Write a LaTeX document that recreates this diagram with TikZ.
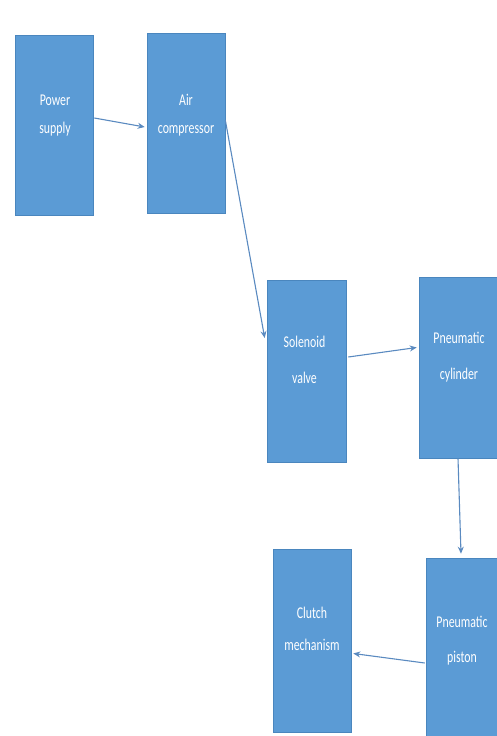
\documentclass[tikz,border=0pt]{standalone}
\usepackage{fontspec}
\setmainfont[FakeStretch=0.72]{Carlito}
\usetikzlibrary{arrows.meta,calc}
\definecolor{boxblue}{HTML}{5B9BD5}
\definecolor{boxedge}{HTML}{4A86BE}
\definecolor{arrowc}{HTML}{5A8AC0}
\tikzset{
  box/.style={rectangle, fill=boxblue, draw=boxedge, line width=0.6bp, inner sep=0pt},
  lbl/.style={text=white, font=\fontsize{16.5}{#1}\selectfont, align=center, inner sep=0pt, anchor=base},
  arr/.style={draw=arrowc, line width=1.1bp, -{Stealth[length=7bp,width=6bp]}}
}
\begin{document}
\begin{tikzpicture}[x=1bp,y=-1bp]
\useasboundingbox (0,0) rectangle (497,736);
% boxes
\node[box, minimum width=78bp, minimum height=180bp] (ps) at (54,125) {};
\node[box, minimum width=78bp, minimum height=180bp] (ac) at (186,123) {};
\node[box, minimum width=79bp, minimum height=182bp] (sv) at (306.5,371) {};
\node[box, minimum width=78bp, minimum height=181bp] (pc) at (458,367.5) {};
\node[box, minimum width=78bp, minimum height=183bp] (cm) at (312,640.5) {};
\node[box, minimum width=72bp, minimum height=180bp] (pp) at (462,648) {};
% labels (anchored at the baseline of the last line)
\node[lbl=28bp] (tps) at ($(ps.center)+(1,8)$) {Power\\supply};
\node[lbl=28bp] (tac) at ($(ac.center)+(0,10)$) {Air\\compressor};
\node[lbl=36bp] (tsv) at ($(sv.center)+(-2,12)$) {Solenoid\\valve};
\node[lbl=36bp] (tpc) at ($(pc.center)+(1,11.5)$) {Pneumatic\\cylinder};
\node[lbl=32bp] (tcm) at ($(cm.center)+(0,9.5)$) {Clutch\\mechanism};
\node[lbl=35bp] (tpp) at ($(pp.center)+(0,14)$) {Pneumatic\\piston};
% connectors
\draw[arr] ($(ps.east)+(1,-7)$) -- ($(ac.west)+(-2,4)$);
\draw[arr] ($(ac.east)+(0,-3)$) -- ($(sv.west)+(-2,-33)$);
\draw[arr] ($(sv.east)+(2,-14)$) -- ($(pc.west)+(-2,-20)$);
\draw[arr] (pc.south) -- ($(pp.north)+(-1,-4)$);
\draw[arr] ($(pp.west)+(-1,15)$) -- ($(cm.east)+(2,13)$);
\end{tikzpicture}
\end{document}
